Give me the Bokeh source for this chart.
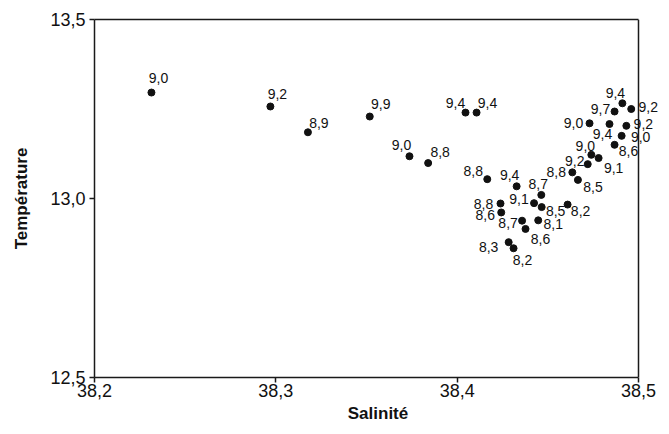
from bokeh.plotting import figure
from bokeh.models import (ColumnDataSource, Label, FixedTicker, CustomJSTickFormatter,
                          Range1d, LinearAxis, Span)
from bokeh.embed import file_html
from bokeh.resources import INLINE

# Data
salinity = [38.2314, 38.297, 38.3177, 38.3518, 38.3737, 38.384, 38.4046, 38.4107,
            38.4166, 38.4328, 38.4464, 38.4239, 38.4243, 38.4424, 38.4466, 38.4609,
            38.4447, 38.4358, 38.4377, 38.4284, 38.4311,
            38.4911, 38.4868, 38.4960, 38.4730, 38.4840, 38.4933, 38.4907, 38.4868,
            38.4740, 38.4780, 38.4720, 38.4635, 38.4666]
temperature = [13.296, 13.257, 13.185, 13.229, 13.118, 13.099, 13.240, 13.240,
               13.054, 13.034, 13.010, 12.986, 12.961, 12.987, 12.976, 12.983,
               12.939, 12.938, 12.915, 12.878, 12.861,
               13.266, 13.243, 13.250, 13.210, 13.208, 13.203, 13.175, 13.150,
               13.122, 13.113, 13.096, 13.073, 13.052]
oxygen = [9.0, 9.2, 8.9, 9.9, 9.0, 8.8, 9.4, 9.4,
          8.8, 9.4, 8.7, 8.8, 8.6, 9.1, 8.5, 8.2,
          8.1, 8.7, 8.6, 8.3, 8.2,
          9.4, 9.7, 9.2, 9.0, 9.4, 9.2, 9.0, 8.6,
          9.0, 9.1, 9.2, 8.8, 8.5]
x_ticks = [38.2, 38.3, 38.4, 38.5]
y_ticks = [12.5, 13.0, 13.5]

# label placement (screen pixels, right / down positive)
label_dx = [7, 7, 11, 11, -8, 12, -10, 11,
            -14, -7, -3, -17, -16, -15, 14, 13,
            15, -14, 15, -20, 9,
            -7, -14, 17, -16, -7, 17, 19, 14,
            -6, 15, -13, -16, 15]
label_dy = [-15, -12, -9, -13, -11, -11, -10, -10,
            -8, -11, -11, 0, 3, -4, 4, 6,
            4, 2, 10, 5, 12,
            -10, -3, -2, 0, 10, -2, 1, 6,
            -9, 10, -3, 0, 7]

# layout: plot box spans 94..638 px; the drawing area is widened to 661 px on the
# right so that labels next to the right border are not clipped.
FRAME_L, BOX_R, FIG_W = 94, 638, 661
x0, x1 = x_ticks[0], x_ticks[-1]
x_end = x1 + (FIG_W - BOX_R) / (BOX_R - FRAME_L) * (x1 - x0)

src = ColumnDataSource(dict(x=salinity, y=temperature))

p = figure(width=FIG_W, height=426, output_backend="svg", toolbar_location=None,
           x_range=Range1d(x0, x_end), y_range=Range1d(y_ticks[0], y_ticks[-1]),
           min_border_left=FRAME_L, min_border_right=0, min_border_top=19,
           min_border_bottom=49)
p.background_fill_color = "white"
p.border_fill_color = "white"
p.outline_line_color = None
p.xgrid.visible = False
p.ygrid.visible = False

INK = "#1a1a1a"
xax = p.below[0]
yax = p.left[0]

# box: top line (bounded axis) and right line at the last x tick
top = LinearAxis(bounds=(x0, x1), axis_line_color=INK, axis_line_width=1.5,
                 major_tick_line_color=None, minor_tick_line_color=None,
                 major_label_text_font_size="0px")
top.ticker = FixedTicker(ticks=[])
p.add_layout(top, "above")
p.add_layout(Span(location=x1, dimension="height", line_color=INK, line_width=1.5))

p.scatter("x", "y", source=src, size=7, color="#111111")

for xv, yv, ov, dx, dy in zip(salinity, temperature, oxygen, label_dx, label_dy):
    p.add_layout(Label(x=xv, y=yv, text=f"{ov:.1f}".replace(".", ","),
                       x_offset=dx, y_offset=-dy,
                       text_align="center", text_baseline="middle",
                       text_font="Liberation Sans", text_font_size="14px",
                       text_color="#111111"))

fmt = CustomJSTickFormatter(code="return tick.toFixed(1).replace('.', ',');")
for ax, ticks in ((xax, x_ticks), (yax, y_ticks)):
    ax.ticker = FixedTicker(ticks=ticks)
    ax.formatter = fmt
    ax.minor_tick_line_color = None
    ax.major_tick_in = 0
    ax.major_tick_out = 5
    ax.axis_line_width = 1.5
    ax.axis_line_color = INK
    ax.major_tick_line_color = INK
    ax.major_tick_line_width = 1.5
    ax.major_label_text_font = "Liberation Sans"
    ax.major_label_text_font_size = "18px"
    ax.major_label_text_color = "#111111"
    ax.axis_label_text_font = "Liberation Sans"
    ax.axis_label_text_font_size = "17px"
    ax.axis_label_text_font_style = "bold"
    ax.axis_label_text_color = "#111111"

xax.bounds = (x0, x1)
xax.axis_label = "Salinité"
yax.axis_label = "Température"
xax.major_label_standoff = 1
yax.major_label_standoff = 4
xax.axis_label_standoff = 4
yax.axis_label_standoff = 16

open("out.html", "w").write(file_html(p, INLINE))
